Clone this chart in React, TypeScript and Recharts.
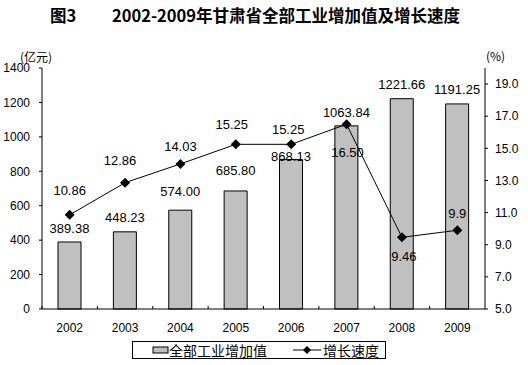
import { ComposedChart, Bar, Line, XAxis, YAxis, LabelList } from 'recharts';

const years = ['2002', '2003', '2004', '2005', '2006', '2007', '2008', '2009'];
const industryValue = [389.38, 448.23, 574.0, 685.8, 868.13, 1063.84, 1221.66, 1191.25];
const growthRate = [10.86, 12.86, 14.03, 15.25, 15.25, 16.5, 9.46, 9.9];
const growthText = ['10.86', '12.86', '14.03', '15.25', '15.25', '16.50', '9.46', '9.9'];
const leftTicks = [0, 200, 400, 600, 800, 1000, 1200, 1400];
const rightTicks = [5, 7, 9, 11, 13, 15, 17, 19];

const data = years.map((year, i) => ({
  year,
  value: industryValue[i],
  rate: growthRate[i],
  rateText: growthText[i],
}));

// label placement, tuned by eye (px from the mark)
const barLabelLift = [13, 14, 19, 20, 3, 13, 14, 14];
const lineLabelShift = [
  [0, -24], [-5, -22], [0, -17], [-4, -20], [-3, -15], [1, 28], [2, 19], [0, -17],
];

const numFont = '"Liberation Sans", Arial, sans-serif';
const cjkFont = '"Noto Sans CJK SC", sans-serif';

const BarValueLabel = (props: any) => {
  const { x, y, width, value, index } = props;
  return (
    <text
      x={x + width / 2}
      y={y - barLabelLift[index]}
      textAnchor="middle"
      dominantBaseline="central"
      fontSize={13}
      fontFamily={numFont}
      fill="#000"
    >
      {Number(value).toFixed(2)}
    </text>
  );
};

const RateLabel = (props: any) => {
  const { x, y, index } = props;
  const [dx, dy] = lineLabelShift[index];
  return (
    <text
      x={x + dx}
      y={y + dy}
      textAnchor="middle"
      dominantBaseline="central"
      fontSize={13}
      fontFamily={numFont}
      fill="#000"
    >
      {growthText[index]}
    </text>
  );
};

const Diamond = (props: any) => {
  const { cx, cy } = props;
  if (cx == null || cy == null) return null;
  const r = 5;
  return (
    <polygon
      points={`${cx},${cy - r} ${cx + r},${cy} ${cx},${cy + r} ${cx - r},${cy}`}
      fill="#000"
    />
  );
};

const YearTick = (props: any) => {
  const { x, y, payload } = props;
  const half = payload.offset || 0;
  return (
    <g>
      <line x1={x - half} x2={x - half} y1={y} y2={y - 3} stroke="#000" />
      <text
        x={x}
        y={y + 19}
        textAnchor="middle"
        dominantBaseline="central"
        fontSize={12}
        fontFamily={numFont}
        fill="#000"
      >
        {payload.value}
      </text>
    </g>
  );
};

export default function App() {
  return (
    <div style={{ position: 'absolute', left: 0, top: 0, width: 528, height: 365, background: '#fff' }}>
      <div
        style={{
          position: 'absolute',
          left: 50,
          top: 4,
          fontFamily: cjkFont,
          fontWeight: 700,
          fontSize: 16.5,
          lineHeight: '22px',
          whiteSpace: 'nowrap',
        }}
      >
        图3
      </div>
      <div
        style={{
          position: 'absolute',
          left: 112,
          top: 4,
          fontFamily: cjkFont,
          fontWeight: 700,
          fontSize: 16.5,
          lineHeight: '22px',
          whiteSpace: 'nowrap',
        }}
      >
        2002-2009年甘肃省全部工业增加值及增长速度
      </div>
      <div style={{ position: 'absolute', left: 20, top: 49, fontFamily: cjkFont, fontSize: 12, lineHeight: '16px' }}>
        (亿元)
      </div>
      <div style={{ position: 'absolute', left: 486, top: 48, fontFamily: cjkFont, fontSize: 12, lineHeight: '16px' }}>
        (%)
      </div>

      <ComposedChart
        width={528}
        height={365}
        data={data}
        margin={{ top: 68, right: 0, bottom: 36, left: 0 }}
      >
        <XAxis
          dataKey="year"
          height={20}
          axisLine={{ stroke: '#000' }}
          tickLine={false}
          tickSize={0}
          tickMargin={0}
          tick={<YearTick />}
          interval={0}
        />
        <YAxis
          yAxisId="left"
          width={42}
          domain={[0, 1400]}
          ticks={leftTicks}
          interval={0}
          axisLine={{ stroke: '#000' }}
          tickLine={{ stroke: '#000' }}
          tickSize={3}
          tickMargin={9}
          tick={{ fontSize: 12, fontFamily: numFont, fill: '#000' }}
        />
        <YAxis
          yAxisId="right"
          orientation="right"
          width={43}
          domain={[5, 20]}
          ticks={rightTicks}
          interval={0}
          axisLine={{ stroke: '#000' }}
          tickLine={{ stroke: '#000' }}
          tickSize={3}
          tickMargin={7}
          tickFormatter={(v: number) => v.toFixed(1)}
          tick={{ fontSize: 12, fontFamily: numFont, fill: '#000' }}
        />
        <Bar
          yAxisId="left"
          dataKey="value"
          barSize={23}
          fill="#c0c0c0"
          stroke="#000"
          strokeWidth={1}
          isAnimationActive={false}
        >
          <LabelList dataKey="value" content={<BarValueLabel />} />
        </Bar>
        <Line
          yAxisId="right"
          dataKey="rate"
          type="linear"
          stroke="#000"
          strokeWidth={1}
          dot={<Diamond />}
          activeDot={false}
          isAnimationActive={false}
        >
          <LabelList dataKey="rate" content={<RateLabel />} />
        </Line>
      </ComposedChart>

      <div
        style={{
          position: 'absolute',
          left: 132,
          top: 341,
          width: 252,
          height: 16,
          border: '1px solid #000',
          boxSizing: 'content-box',
        }}
      >
        <svg width={252} height={16} style={{ position: 'absolute', left: 0, top: 0 }}>
          <rect x={20} y={5} width={15} height={6} fill="#c0c0c0" stroke="#000" strokeWidth={1} />
          <line x1={160} x2={188} y1={8} y2={8} stroke="#000" strokeWidth={1} />
          <polygon points="174,4 178,8 174,12 170,8" fill="#000" />
        </svg>
        <span
          style={{
            position: 'absolute',
            left: 36,
            top: 0,
            fontFamily: cjkFont,
            fontSize: 14,
            lineHeight: '16px',
            whiteSpace: 'nowrap',
          }}
        >
          全部工业增加值
        </span>
        <span
          style={{
            position: 'absolute',
            left: 190,
            top: 0,
            fontFamily: cjkFont,
            fontSize: 14,
            lineHeight: '16px',
            whiteSpace: 'nowrap',
          }}
        >
          增长速度
        </span>
      </div>
    </div>
  );
}
